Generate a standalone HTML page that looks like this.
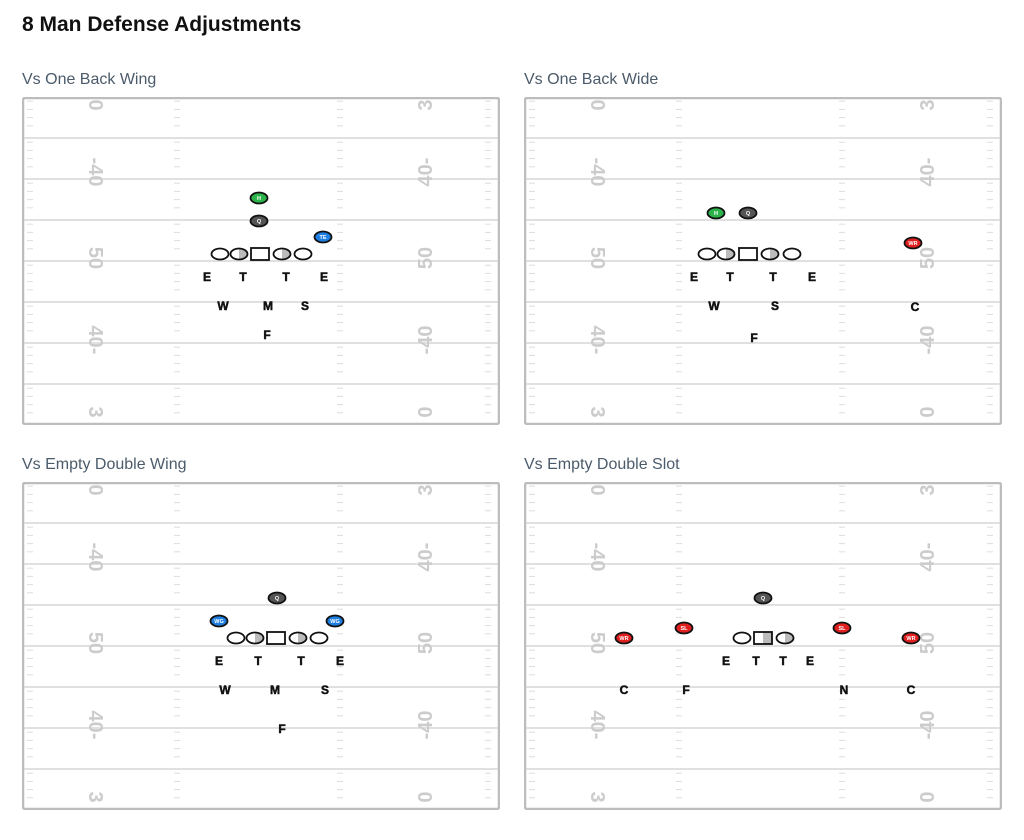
<!DOCTYPE html>
<html><head><meta charset="utf-8"><style>
body{margin:0;background:#fff;font-family:"Liberation Sans",sans-serif;width:1024px;height:840px;position:relative;overflow:hidden}
h1{position:absolute;left:22px;top:13px;margin:0;font-size:21px;font-weight:600;color:#111}
.sub{position:absolute;font-size:16px;color:#4b5b6b}
svg{position:absolute}
</style></head><body>
<h1>8 Man Defense Adjustments</h1>
<div class="sub" style="left:22px;top:71px">Vs One Back Wing</div>
<div class="sub" style="left:524px;top:71px">Vs One Back Wide</div>
<div class="sub" style="left:22px;top:456px">Vs Empty Double Wing</div>
<div class="sub" style="left:524px;top:456px">Vs Empty Double Slot</div>
<script>
const fieldOrigins=[[22,97],[524,97],[22,482],[524,482]];
const fieldNames=['field-one-back-wing','field-one-back-wide','field-empty-double-wing','field-empty-double-slot'];
// offensive skill players: [label, absX, absY, color]
const skill=[
 [['H',259,198,'#2bb34a'],['Q',259,221,'#555'],['TE',323,237,'#1f7fe0']],
 [['H',716,213,'#2bb34a'],['Q',748,213,'#555'],['WR',913,243,'#e02020']],
 [['Q',277,598,'#555'],['WG',219,621,'#1f7fe0'],['WG',335,621,'#1f7fe0']],
 [['Q',763,598,'#555'],['SL',684,628,'#e02020'],['SL',842,628,'#e02020'],['WR',624,638,'#e02020'],['WR',911,638,'#e02020']]
];
// linemen: [absX, absY, type] type: o plain, h half, s square, sh shaded square
const line=[
 [[220,254,'o'],[239,254,'h'],[260,254,'s'],[282,254,'h'],[303,254,'o']],
 [[707,254,'o'],[726,254,'h'],[748,254,'s'],[770,254,'h'],[792,254,'o']],
 [[236,638,'o'],[255,638,'h'],[276,638,'s'],[298,638,'h'],[319,638,'o']],
 [[742,638,'o'],[763,638,'sh'],[785,638,'h']]
];
// defenders: [letter, absX, absY]
const defense=[
 [['E',207,277],['T',243,277],['T',286,277],['E',324,277],['W',223,306],['M',268,306],['S',305,306],['F',267,335]],
 [['E',694,277],['T',730,277],['T',773,277],['E',812,277],['W',714,306],['S',775,306],['C',915,307],['F',754,338]],
 [['E',219,661],['T',258,661],['T',301,661],['E',340,661],['W',225,690],['M',275,690],['S',325,690],['F',282,729]],
 [['E',726,661],['T',756,661],['T',783,661],['E',810,661],['C',624,690],['F',686,690],['N',844,690],['C',911,690]]
];
const NS='http://www.w3.org/2000/svg';
function mk(tag,attrs,parent){const e=document.createElementNS(NS,tag);for(const k in attrs)e.setAttribute(k,attrs[k]);parent.appendChild(e);return e;}
const W=478,H=328;
fieldOrigins.forEach((o,fi)=>{
 const svg=mk('svg',{width:W,height:H,viewBox:`0 0 ${W} ${H}`},document.body);
 svg.style.left=o[0]+'px';svg.style.top=o[1]+'px';
 
 
 const defs=mk('defs',{},svg);
 const lg=mk('linearGradient',{id:'hg'+fi},defs);
 mk('stop',{offset:'50%','stop-color':'#fff'},lg);mk('stop',{offset:'50%','stop-color':'#bbb'},lg);
 mk('rect',{x:1,y:1,width:W-2,height:H-2,fill:'#fff',stroke:'#bdbdbd','stroke-width':2.5,rx:2},svg);
 for(let i=1;i<=7;i++){const y=41*i;mk('line',{x1:2,x2:W-2,y1:y,y2:y,stroke:'#d6d6d6','stroke-width':1.4},svg);}
 for(let s=0;s<8;s++){for(let k=1;k<=4;k++){const y=s*41+k*8.2-4;
  [5,152,315,463].forEach(x=>mk('line',{x1:x,x2:x+6,y1:y,y2:y,stroke:'#ddd','stroke-width':1},svg));}}
 const leftNums=[['0',8],['-40',75],['50',161],['40-',243],['3',315]];
 const rightNums=[['3',8],['40-',75],['50',161],['-40',243],['0',315]];
 leftNums.forEach(([t,y])=>{const e=mk('text',{x:0,y:0,transform:`translate(73,${y}) rotate(90)`,'text-anchor':'middle','dominant-baseline':'central','font-size':20,'font-weight':'bold',fill:'#cccccc','font-family':'Liberation Sans'},svg);e.textContent=t;});
 rightNums.forEach(([t,y])=>{const e=mk('text',{x:0,y:0,transform:`translate(404,${y}) rotate(-90)`,'text-anchor':'middle','dominant-baseline':'central','font-size':20,'font-weight':'bold',fill:'#cccccc','font-family':'Liberation Sans'},svg);e.textContent=t;});
 line[fi].forEach(([x,y,t])=>{x-=o[0];y-=o[1];let e;
  if(t[0]==='s'){e=mk('rect',{x:x-9,y:y-6,width:18,height:12,fill:t==='sh'?`url(#hg${fi})`:'#fff',stroke:'#111','stroke-width':1.8},svg);}
  else{e=mk('ellipse',{cx:x,cy:y,rx:8.5,ry:5.5,fill:t==='h'?`url(#hg${fi})`:'#fff',stroke:'#111','stroke-width':1.8},svg);}
  
  
 });
 skill[fi].forEach(([l,x,y,c])=>{x-=o[0];y-=o[1];
  const g=mk('g',{},svg);
  
  
  mk('ellipse',{cx:x,cy:y,rx:8.5,ry:5.5,fill:c,stroke:'#111','stroke-width':1.8},g);
  const t=mk('text',{x:x,y:y+2,'text-anchor':'middle','font-size':5.5,'font-weight':'bold',fill:'#fff','font-family':'Liberation Sans'},g);t.textContent=l;
 });
 defense[fi].forEach(([l,x,y])=>{x-=o[0];y-=o[1];
  const t=mk('text',{x:x,y:y+4,'text-anchor':'middle','font-size':12,'font-weight':'bold',fill:'#111',stroke:'#111','stroke-width':0.5,'font-family':'Liberation Sans'},svg);t.textContent=l;
  
  
 });
});
</script>
</body></html>
